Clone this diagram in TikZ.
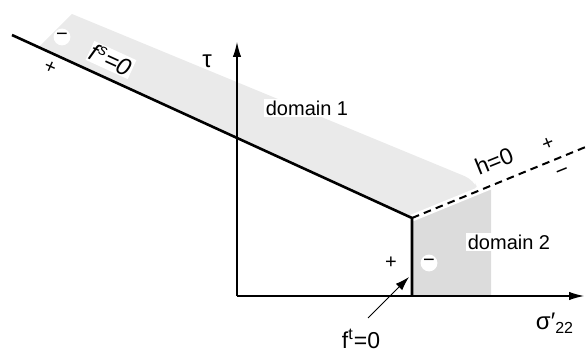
\documentclass[tikz,border=0pt]{standalone}
\usepackage{fontspec}
\setmainfont{Liberation Sans}
\usepackage{xcolor}
\usepackage{tikz}
\usetikzlibrary{arrows.meta,calc}
\definecolor{shadeone}{HTML}{EAEAEA}
\definecolor{shadetwo}{HTML}{DCDCDC}
\tikzset{
  surface/.style={line width=1.3pt, draw=black},
  axis/.style={-{Latex[length=7.5pt, width=4.2pt]}, line width=0.55pt, draw=black},
  pointer/.style={-{Latex[length=7pt, width=4.5pt]}, line width=0.5pt, draw=black},
  hline/.style={line width=1pt, dash pattern=on 3.8pt off 2.6pt, draw=black},
  gap/.style={line width=3.5pt, draw=white},
  lbl/.style={inner sep=0.8pt, font=\fontsize{10}{12}\selectfont},
  boxlbl/.style={lbl, fill=white},
  sign/.style={inner sep=0pt, font=\fontsize{10}{12}\selectfont},
  minuscirc/.style={circle, fill=white, inner sep=0pt, minimum size=8.4pt, font=\fontsize{10}{12}\selectfont}
}
\begin{document}
\begin{tikzpicture}[x=0.5pt, y=-0.5pt]
  \useasboundingbox (0,0) rectangle (588,353);
  \coordinate (L) at (12,35);
  \coordinate (K) at (412,218);
  \coordinate (B) at (412,296);
  \coordinate (O) at (237,296);
  \coordinate (X) at (584,296);
  \coordinate (Y) at (237,42);
  \coordinate (H) at (588,146);

  % shaded domains
  \fill[shadeone] (38,48) -- (72,14) [rounded corners=5pt] -- (474,180) -- (479,192) [sharp corners] -- (K) -- cycle;
  \fill[shadetwo] (K) -- (491,186) -- (491,296) -- (B) -- cycle;
  \draw[gap] (K) -- (H);

  \draw[axis] (O) -- (X);
  \draw[axis] (O) -- (Y);
  \draw[surface] (L) -- (K) -- (B);
  \draw[hline] (K) -- (H);

  \node[minuscirc] (ms) at (62,37) {−};
  \node[sign, rotate=-24] (ps) at (50,68) {+};
  \node[boxlbl, rotate=-24.6, font=\fontsize{12}{14}\selectfont\itshape] (fs) at (111,60) {f\textsuperscript{s}=0};
  \node[lbl, font=\fontsize{12}{14}\selectfont] (tau) at (207,61) {τ};
  \node[boxlbl] (dom1) at (307,108) {domain 1};
  \node[lbl, rotate=22, font=\fontsize{11.5}{14}\selectfont] (h0) at (494,161) {h=0};
  \node[sign, rotate=22] (ph) at (548,144) {+};
  \node[sign, rotate=22, font=\fontsize{11}{12}\selectfont] (mh) at (563,173) {−};
  \node[boxlbl] (dom2) at (509,242) {domain 2};
  \node[sign] (pt) at (391,263) {+};
  \node[minuscirc] (mt) at (429,263) {−};
  \node[lbl, font=\fontsize{11.5}{14}\selectfont] (ft) at (361,339) {f\textsuperscript{t}=0};
  \node[lbl, font=\fontsize{12}{14}\selectfont] (sig) at (555,323) {σ′\textsubscript{22}};

  \coordinate (ftip) at (409,277);
  \draw[pointer] (ft) ++(7,-21) -- (ftip);
\end{tikzpicture}
\end{document}
